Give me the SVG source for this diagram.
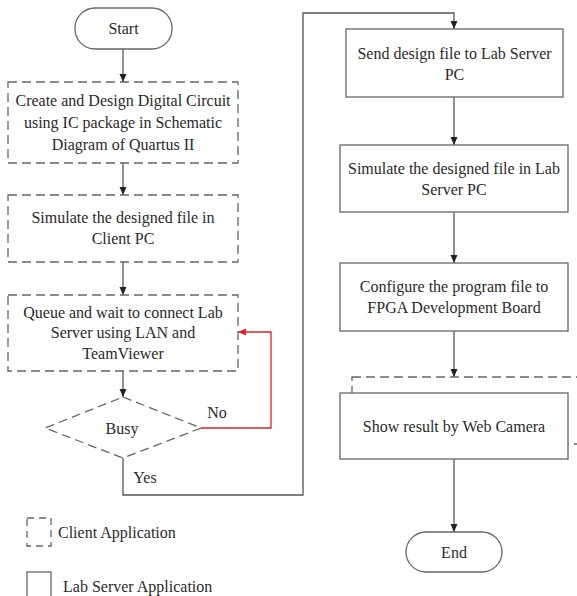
<svg xmlns="http://www.w3.org/2000/svg" width="577" height="596" viewBox="0 0 577 596">
<defs>
<marker id="arr" viewBox="0 0 8 8" refX="8" refY="4" markerWidth="8" markerHeight="8" markerUnits="userSpaceOnUse" orient="auto">
<path d="M0,0.5 L8,4 L0,7.5 z" fill="#222"/>
</marker>
<marker id="arrR" viewBox="0 0 8 8" refX="8" refY="4" markerWidth="8" markerHeight="8" markerUnits="userSpaceOnUse" orient="auto">
<path d="M0,0.5 L8,4 L0,7.5 z" fill="#e0202a"/>
</marker>
</defs>
<style>
text{font-family:"Liberation Serif","Times New Roman",serif;font-size:16px;fill:#2a2a2a;text-anchor:middle;dominant-baseline:central}
.dash{fill:#fff;stroke:#666;stroke-width:1.3;stroke-dasharray:9 5}
.solid{fill:#fff;stroke:#666;stroke-width:1.3}
.c{fill:none;stroke:#555;stroke-width:1.3}
.red{fill:none;stroke:#e0202a;stroke-width:1.3}
.l{text-anchor:start}
</style>
<rect width="577" height="596" fill="#fff"/>
<g id="connectors">
<line class="c" x1="123" y1="49" x2="123" y2="82" marker-end="url(#arr)"/>
<line class="c" x1="123" y1="163" x2="123" y2="195" marker-end="url(#arr)"/>
<line class="c" x1="123" y1="262" x2="123" y2="295" marker-end="url(#arr)"/>
<line class="c" x1="123" y1="371" x2="123" y2="397" marker-end="url(#arr)"/>
<polyline class="red" points="201,428 271,428 271,332 238,332" marker-end="url(#arrR)"/>
<polyline class="c" points="123,458 123,495 303,495 303,13 454,13 454,29" marker-end="url(#arr)"/>
<line class="c" x1="454" y1="97" x2="454" y2="145" marker-end="url(#arr)"/>
<line class="c" x1="454" y1="212" x2="454" y2="263" marker-end="url(#arr)"/>
<line class="c" x1="454" y1="331" x2="454" y2="377" marker-end="url(#arr)"/>
<line class="c" x1="454" y1="459" x2="454" y2="532" marker-end="url(#arr)"/>
<text x="217" y="412">No</text>
<text x="145" y="477">Yes</text>
</g>
<g id="start">
<rect class="solid" x="75" y="8" width="97" height="41" rx="20"/>
<text x="123.5" y="28">Start</text>
</g>
<g id="create">
<rect class="dash" x="8" y="82" width="230" height="81"/>
<text x="123" y="100">Create and Design Digital Circuit</text>
<text x="123" y="122">using IC package in Schematic</text>
<text x="123" y="144">Diagram of Quartus II</text>
</g>
<g id="simclient">
<rect class="dash" x="8" y="195" width="230" height="67"/>
<text x="123" y="217">Simulate the designed file in</text>
<text x="123" y="238">Client PC</text>
</g>
<g id="queue">
<rect class="dash" x="8" y="295" width="230" height="76"/>
<text x="123" y="312">Queue and wait to connect Lab</text>
<text x="123" y="332">Server using LAN and</text>
<text x="123" y="353">TeamViewer</text>
</g>
<g id="busy">
<polygon class="dash" points="123,397 201,428 123,458 45,428"/>
<text x="122" y="428">Busy</text>
</g>
<g id="send">
<rect class="solid" x="346" y="29" width="217" height="68"/>
<text x="454.5" y="53">Send design file to Lab Server</text>
<text x="454.5" y="74">PC</text>
</g>
<g id="simserver">
<rect class="solid" x="340" y="145" width="228" height="67"/>
<text x="454" y="168">Simulate the designed file in Lab</text>
<text x="454" y="189">Server PC</text>
</g>
<g id="configure">
<rect class="solid" x="340" y="263" width="228" height="68"/>
<text x="454" y="286">Configure the program file to</text>
<text x="454" y="307">FPGA Development Board</text>
</g>
<g id="clientframe">
<rect class="dash" x="352" y="377" width="250" height="67" style="fill:none"/>
</g>
<g id="show">
<rect class="solid" x="340" y="393" width="228" height="66"/>
<text x="454" y="426">Show result by Web Camera</text>
</g>
<g id="end">
<rect class="solid" x="406" y="532" width="96" height="40" rx="20"/>
<text x="454" y="552">End</text>
</g>
<g id="legend">
<rect class="dash" x="27" y="518" width="24" height="28" style="stroke-dasharray:7 5"/>
<text class="l" x="58" y="532">Client Application</text>
<rect class="solid" x="27" y="572" width="24" height="30"/>
<text class="l" x="63" y="586">Lab Server Application</text>
</g>
</svg>
